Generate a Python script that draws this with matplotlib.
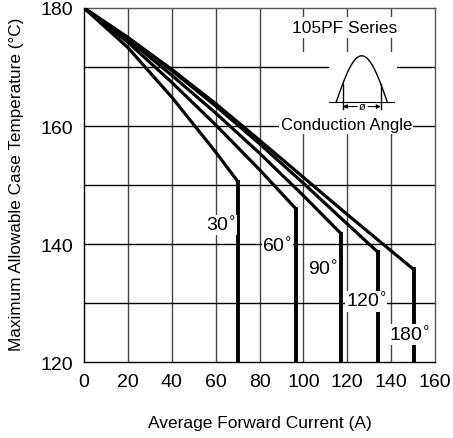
import matplotlib
matplotlib.use("Agg")
import matplotlib.pyplot as plt
import numpy as np

plt.rcParams['font.family'] = ['Liberation Sans', 'DejaVu Sans']

# curve data: (current A, case temp C)
angles = ["30", "60", "90", "120", "180"]
cur_30 = [0, 20, 40, 60, 70.3]
temp_30 = [180, 173.3, 164.9, 155.6, 150.5]
cur_60 = [0, 20, 40, 60, 80, 96.5]
temp_60 = [180, 174.2, 167.4, 160.2, 152.6, 146.0]
cur_90 = [0, 20, 40, 60, 80, 100, 117.3]
temp_90 = [180, 174.7, 168.6, 162.2, 155.4, 148.2, 141.7]
cur_120 = [0, 20, 40, 60, 80, 100, 120, 134]
temp_120 = [180, 175.0, 169.4, 163.4, 157.0, 150.3, 143.4, 138.6]
cur_180 = [0, 20, 40, 60, 80, 100, 120, 150.2]
temp_180 = [180, 175.0, 169.6, 163.8, 157.6, 151.3, 145.0, 135.7]

currents = [cur_30, cur_60, cur_90, cur_120, cur_180]
temps = [temp_30, temp_60, temp_90, temp_120, temp_180]

# label positions for the angle tags
label_x = [62.3, 88.2, 109, 128.6, 148.6]
label_y = [143.2, 139.7, 135.8, 130.3, 124.6]

x_ticks = [0, 20, 40, 60, 80, 100, 120, 140, 160]
y_ticks = [120, 140, 160, 180]

fig = plt.figure(figsize=(4.53, 4.39), dpi=100)
ax = fig.add_axes([0.1854, 0.1731, 0.7749, 0.8064])

ax.set_xlim(0, 160)
ax.set_ylim(120, 180)
ax.set_xticks(x_ticks)
ax.set_yticks(y_ticks)
ax.tick_params(length=0, labelsize=14, pad=8)

# grid
for xv in x_ticks[1:-1]:
    ax.axvline(xv, color='#444444', lw=1.0, zorder=1)
for yv in [130, 140, 150, 160, 170]:
    ax.axhline(yv, color='black', lw=1.0, zorder=1)
for s in ax.spines.values():
    s.set_color('#555555')
    s.set_linewidth(1.0)
ax.spines['left'].set_color('black')
ax.spines['bottom'].set_color('black')

# curves: sloped part then vertical drop to 120
for cx, ty in zip(currents, temps):
    ax.plot(cx, ty, color='black', lw=2.3, zorder=4, solid_capstyle='round')
    ax.plot([cx[-1], cx[-1]], [ty[-1], 120], color='black', lw=2.8, zorder=4)

for a, lx, ly in zip(angles, label_x, label_y):
    ax.text(lx, ly, a + "$^{\\circ}$", fontsize=14, ha='center', va='center',
            zorder=5, bbox=dict(facecolor='white', edgecolor='none', pad=0.5))

# inset sketch of conduction angle
ax.add_patch(plt.Rectangle((99, 161), 43.5, 11.5, facecolor='white',
                           edgecolor='none', zorder=2))
ax.plot([99, 111], [170, 170], color='black', lw=1.0, zorder=2.5)
ax.text(119, 176.7, "105PF Series", fontsize=12.5, ha='center', va='center',
        zorder=5, bbox=dict(facecolor='white', edgecolor='none', pad=2))
t = np.linspace(0, np.pi, 60)
sx = 114.9 + (138.3 - 114.9) * t / np.pi
sy = 164.0 + (171.9 - 164.0) * np.sin(t)
ax.plot(sx, sy, color='black', lw=1.0, zorder=3)
ax.plot([111.8, 141.4], [164.0, 164.0], color='black', lw=0.8, zorder=3)
for vx in [117.9, 135.3]:
    ax.plot([vx, vx], [162.9, 167.1], color='black', lw=1.0, zorder=3)
ax.annotate("", xy=(117.9, 163.3), xytext=(124.5, 163.3),
            arrowprops=dict(arrowstyle='-|>', lw=0.8, color='black',
                            mutation_scale=6, shrinkA=0, shrinkB=0), zorder=3)
ax.annotate("", xy=(135.3, 163.3), xytext=(129.5, 163.3),
            arrowprops=dict(arrowstyle='-|>', lw=0.8, color='black',
                            mutation_scale=6, shrinkA=0, shrinkB=0), zorder=3)
ax.text(127, 163.4, "ø", fontsize=8, ha='center', va='center', zorder=3)
ax.text(119.5, 160.2, "Conduction Angle", fontsize=12, ha='center', va='center',
        zorder=5, bbox=dict(facecolor='white', edgecolor='none', pad=1))

fig.text(260 / 453, 1 - 424 / 439, "Average Forward Current (A)", fontsize=12.5,
         ha='center', va='center')
fig.text(17 / 453, 1 - 184 / 439, "Maximum Allowable Case Temperature (°C)",
         fontsize=12.3, ha='center', va='center', rotation=90)

fig.savefig("out.png", dpi=100)
